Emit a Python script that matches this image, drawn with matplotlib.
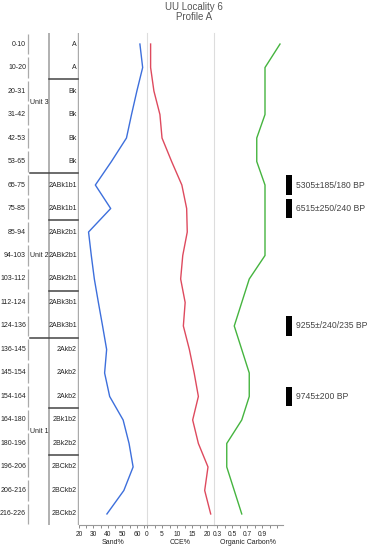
import numpy as np
import matplotlib
matplotlib.use("Agg")
import matplotlib.pyplot as plt
from matplotlib.patches import Rectangle

plt.rcParams['font.family'] = ['Liberation Sans', 'DejaVu Sans']

depths = ['0-10', '10-20', '20-31', '31-42', '42-53', '53-65', '65-75', '75-85',
          '85-94', '94-103', '103-112', '112-124', '124-136', '136-145', '145-154',
          '154-164', '164-180', '180-196', '196-206', '206-216', '216-226']
horizons = ['A', 'A', 'Bk', 'Bk', 'Bk', 'Bk', '2ABk1b1', '2ABk1b1', '2ABk2b1',
            '2ABk2b1', '2ABk2b1', '2ABk3b1', '2ABk3b1', '2Akb2', '2Akb2', '2Akb2',
            '2Bk1b2', '2Bk2b2', '2BCkb2', '2BCkb2', '2BCkb2']
units = ['Unit 3', 'Unit 2', 'Unit 1']
unit_rows = [(0, 5), (6, 12), (13, 20)]
horizon_breaks = [1.5, 7.5, 10.5, 15.5, 17.5]
unit_breaks = [5.5, 12.5]

sand = [62.1, 64.0, 60.0, 56.3, 52.8, 42.4, 31.3, 41.9, 26.6, 28.5, 30.6,
        33.4, 36.3, 39.1, 37.7, 41.2, 50.5, 54.6, 57.4, 51.0, 39.3]
cce = [1.2, 1.2, 2.3, 4.3, 5.0, 8.2, 11.6, 13.2, 13.4, 11.9, 11.2,
       12.7, 12.1, 14.1, 15.7, 17.1, 15.2, 17.1, 20.3, 19.2, 21.2]
oc = [1.14, 0.94, 0.94, 0.94, 0.83, 0.83, 0.94, 0.94, 0.94, 0.94, 0.73,
      0.63, 0.53, 0.63, 0.73, 0.73, 0.63, 0.43, 0.43, 0.53, 0.63]

dates = ['5305\u00b1185/180 BP', '6515\u00b1250/240 BP', '9255\u00b1/240/235 BP', '9745\u00b1200 BP']
date_rows = [6, 7, 12, 15]

W, H = 377, 550
fig = plt.figure(figsize=(W / 100, H / 100), dpi=100)
fig.text(194 / W, 1 - 7 / H, 'UU Locality 6', ha='center', va='center', fontsize=7, color='#555555')
fig.text(194 / W, 1 - 17 / H, 'Profile A', ha='center', va='center', fontsize=7, color='#555555')

n = len(depths)
rows = np.arange(n)
top_px, bot_px = 33, 525
bot = 1 - bot_px / H
hgt = (bot_px - top_px) / H
ylim = (n - 0.53, -0.47)

# label columns
ax = fig.add_axes([0, bot, 79 / W, hgt])
ax.set_xlim(0, 79)
ax.set_ylim(*ylim)
ax.axis('off')
for i in rows:
    ax.plot([27.5, 27.5], [i - 0.44, i + 0.44], color='#aaaaaa', lw=0.9, solid_capstyle='butt')
    ax.text(26, i, depths[i], ha='right', va='center', fontsize=5, color='#222222')
    ax.text(77, i, horizons[i], ha='right', va='center', fontsize=5, color='#222222')
ax.axvline(49, color='#aaaaaa', lw=1.3)
ax.axvline(78.3, color='#aaaaaa', lw=1.0)
for u, (a, b) in zip(units, unit_rows):
    ax.text(39, (a + b) / 2, u, ha='center', va='center', fontsize=5, color='#222222')
for yb in horizon_breaks:
    ax.plot([49, 78.3], [yb, yb], color='#444444', lw=1.1)
for yb in unit_breaks:
    ax.plot([30, 78.3], [yb, yb], color='#444444', lw=1.1)


def data_axes(x0, x1, xlim, major, minor, labels, xlabel, vals, color, sep):
    a = fig.add_axes([x0 / W, bot, (x1 - x0) / W, hgt])
    a.set_xlim(*xlim)
    a.set_ylim(*ylim)
    a.plot(vals, rows, color=color, lw=1.0)
    for s in ['top', 'right']:
        a.spines[s].set_visible(False)
    a.spines['left'].set_visible(sep)
    a.spines['left'].set_color('#dddddd')
    a.spines['bottom'].set_color('#999999')
    a.spines['bottom'].set_linewidth(0.8)
    a.set_yticks([])
    a.set_xticks(major)
    a.set_xticklabels(labels)
    a.set_xticks(minor, minor=True)
    a.tick_params(axis='x', which='both', direction='out', length=2.5, width=0.6,
                  color='#777777', labelsize=4.8, pad=1.5, labelcolor='#222222')
    a.set_xlabel(xlabel, fontsize=5, labelpad=1, color='#222222')
    a.patch.set_alpha(0)
    return a


data_axes(79, 147, (20, 67), [20, 30, 40, 50, 60], [25, 35, 45, 55, 65],
          ['20', '30', '40', '50', '60'], 'Sand%', sand, '#3d6fdc', False)
data_axes(147, 214, (0, 22.3), [0, 5, 10, 15, 20], [2.5, 7.5, 12.5, 17.5],
          ['0', '5', '10', '15', '20'], 'CCE%', cce, '#de4a5e', True)
data_axes(214, 283, (0.26, 1.18), [0.3, 0.5, 0.7, 0.9], [0.4, 0.6, 0.8, 1.0, 1.1],
          ['0.3', '0.5', '0.7', '0.9'], 'Organic Carbon%', oc, '#45b43f', True)

# radiocarbon dates
axd = fig.add_axes([283 / W, bot, (W - 283) / W, hgt])
axd.set_xlim(283, W)
axd.set_ylim(*ylim)
axd.axis('off')
for d, r in zip(dates, date_rows):
    axd.add_patch(Rectangle((286, r - 0.42), 5.5, 0.84, color='black', lw=0))
    axd.text(296, r, d, ha='left', va='center', fontsize=6.2, color='#444444')

fig.savefig('out.png', dpi=100)
